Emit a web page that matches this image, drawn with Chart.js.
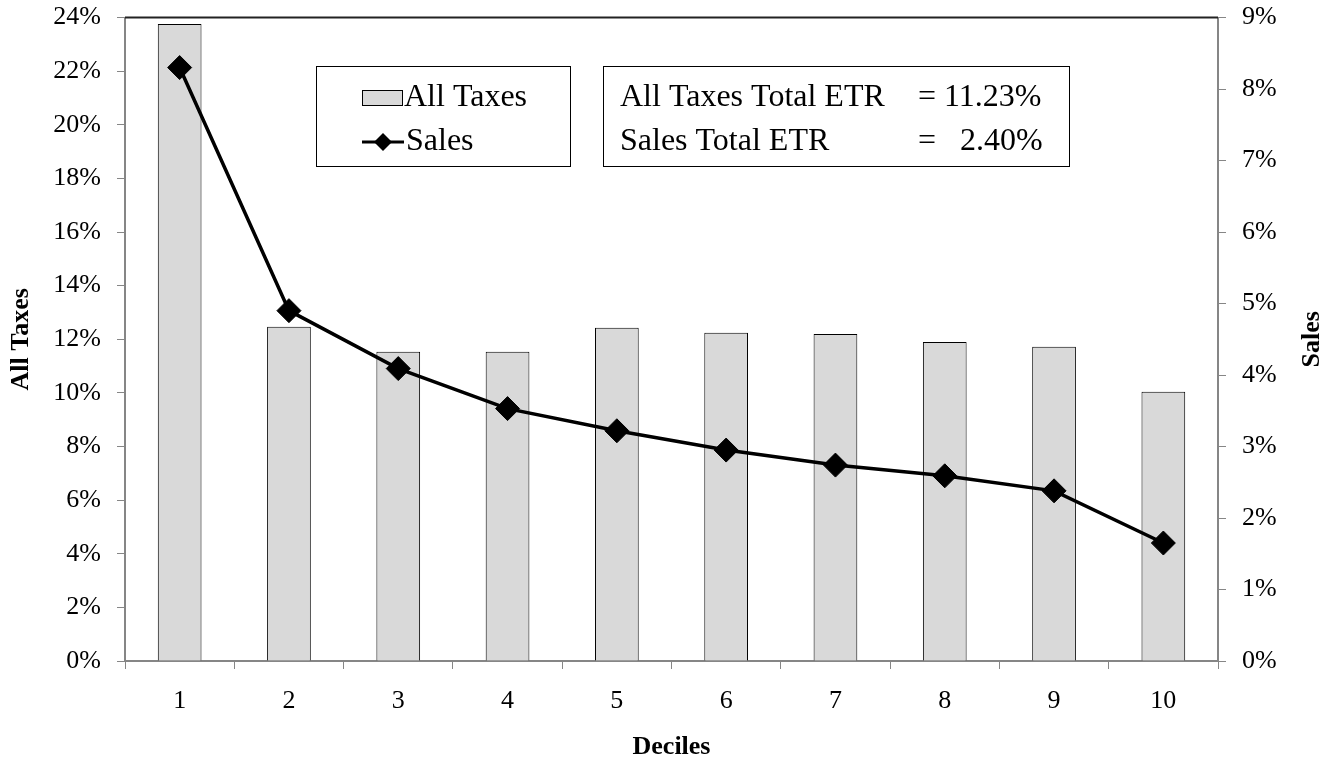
<!DOCTYPE html>
<html><head><meta charset="utf-8">
<script src="https://cdn.jsdelivr.net/npm/chart.js@4/dist/chart.umd.min.js"></script>
<style>html,body{margin:0;padding:0;background:#fff;}#wrap{width:1336px;height:761px;}</style>
</head><body><div id="wrap"><canvas id="c" width="1336" height="761"></canvas></div>
<script>
const deciles = ['1','2','3','4','5','6','7','8','9','10'];
const allTaxes = [23.76, 12.47, 11.53, 11.53, 12.43, 12.24, 12.20, 11.90, 11.72, 10.04];
const sales = [8.30, 4.90, 4.09, 3.53, 3.22, 2.95, 2.74, 2.59, 2.38, 1.65];
const summaryLines = [['All Taxes Total ETR', '= 11.23%'], ['Sales Total ETR', '=   2.40%']];

const FONT = '"Liberation Serif", "Times New Roman", serif';
const AXIS = '#868686';

const boxesPlugin = {
  id: 'boxes',
  afterDraw(chart) {
    const ctx = chart.ctx;
    const ca = chart.chartArea;
    ctx.save();
    // top border of plot area
    ctx.strokeStyle = '#222';
    ctx.lineWidth = 2;
    ctx.beginPath(); ctx.moveTo(ca.left, ca.top); ctx.lineTo(ca.right, ca.top); ctx.stroke();
    // right axis title (reads bottom to top)
    ctx.save();
    ctx.translate(1312, (ca.top + ca.bottom) / 2);
    ctx.rotate(-Math.PI / 2);
    ctx.font = 'bold 26px ' + FONT;
    ctx.fillStyle = '#000';
    ctx.textAlign = 'center';
    ctx.textBaseline = 'middle';
    ctx.fillText('Sales', 0, 0);
    ctx.restore();
    // legend box
    ctx.lineWidth = 1;
    ctx.strokeStyle = '#000';
    ctx.fillStyle = '#fff';
    ctx.fillRect(316.5, 66.5, 254, 100);
    ctx.strokeRect(316.5, 66.5, 254, 100);
    ctx.fillRect(603.5, 66.5, 466, 100);
    ctx.strokeRect(603.5, 66.5, 466, 100);
    // legend items
    ctx.fillStyle = '#d9d9d9';
    ctx.fillRect(362.5, 90.5, 40, 15);
    ctx.strokeStyle = '#000';
    ctx.lineWidth = 1;
    ctx.strokeRect(362.5, 90.5, 40, 15);
    ctx.lineWidth = 3;
    ctx.beginPath(); ctx.moveTo(362, 142); ctx.lineTo(404, 142); ctx.stroke();
    ctx.fillStyle = '#000';
    ctx.beginPath(); ctx.moveTo(383, 133); ctx.lineTo(392, 142); ctx.lineTo(383, 151); ctx.lineTo(374, 142); ctx.closePath(); ctx.fill();
    ctx.font = '32px ' + FONT;
    ctx.textBaseline = 'middle';
    ctx.textAlign = 'left';
    ctx.fillText('All Taxes', 404, 98);
    ctx.fillText('Sales', 406, 142);
    ctx.fillText(summaryLines[0][0], 620, 98);
    ctx.fillText(summaryLines[0][1], 918, 98);
    ctx.fillText(summaryLines[1][0], 620, 142);
    ctx.fillText(summaryLines[1][1], 918, 142);
    ctx.restore();
  }
};

new Chart(document.getElementById('c'), {
  data: {
    labels: deciles,
    datasets: [
      {
        type: 'line', label: 'Sales', data: sales, yAxisID: 'y2',
        borderColor: '#000', borderWidth: 3.5, backgroundColor: '#000',
        pointStyle: 'rectRot', pointRadius: 12, pointBorderWidth: 1,
        pointBackgroundColor: '#000', pointBorderColor: '#000', tension: 0, order: 0
      },
      {
        type: 'bar', label: 'All Taxes', data: allTaxes, yAxisID: 'y',
        backgroundColor: '#d9d9d9', borderColor: '#000', borderWidth: 1,
        barPercentage: 0.4, categoryPercentage: 1.0, order: 1
      }
    ]
  },
  options: {
    responsive: false, animation: false,
    layout: { padding: { top: 17.5, left: 0, right: 0, bottom: 0 } },
    plugins: { legend: { display: false }, tooltip: { enabled: false }, title: { display: false } },
    scales: {
      x: {
        offset: true,
        grid: { offset: true, drawOnChartArea: false, color: AXIS, tickLength: 8, tickWidth: 1 },
        border: { color: AXIS, width: 2 },
        ticks: { color: '#000', font: { family: FONT, size: 26 }, padding: 17, maxRotation: 0 },
        title: { display: true, text: 'Deciles', color: '#000', font: { family: FONT, size: 26, weight: 'bold' }, padding: { top: 0, bottom: -2 } },
        afterFit(s) { s.height = 100; s.paddingLeft = 0; s.paddingRight = 0; }
      },
      y: {
        position: 'left', min: 0, max: 24,
        grid: { drawOnChartArea: false, color: AXIS, tickLength: 8 },
        border: { color: AXIS, width: 2 },
        ticks: { stepSize: 2, color: '#000', font: { family: FONT, size: 26 }, padding: 16, callback: v => v + '%' },
        title: { display: true, text: 'All Taxes', color: '#000', font: { family: FONT, size: 26, weight: 'bold' }, padding: { top: 6, bottom: 0 } },
        afterFit(s) { s.width = 125; s.paddingTop = 0; s.paddingBottom = 0; }
      },
      y2: {
        position: 'right', min: 0, max: 9,
        grid: { drawOnChartArea: false, color: AXIS, tickLength: 8 },
        border: { color: AXIS, width: 2 },
        ticks: { stepSize: 1, color: '#000', font: { family: FONT, size: 26 }, padding: 16, callback: v => v + '%' },
        title: { display: false },
        afterFit(s) { s.width = 118; s.paddingTop = 0; s.paddingBottom = 0; }
      }
    }
  },
  plugins: [boxesPlugin]
});
</script>
</body></html>
